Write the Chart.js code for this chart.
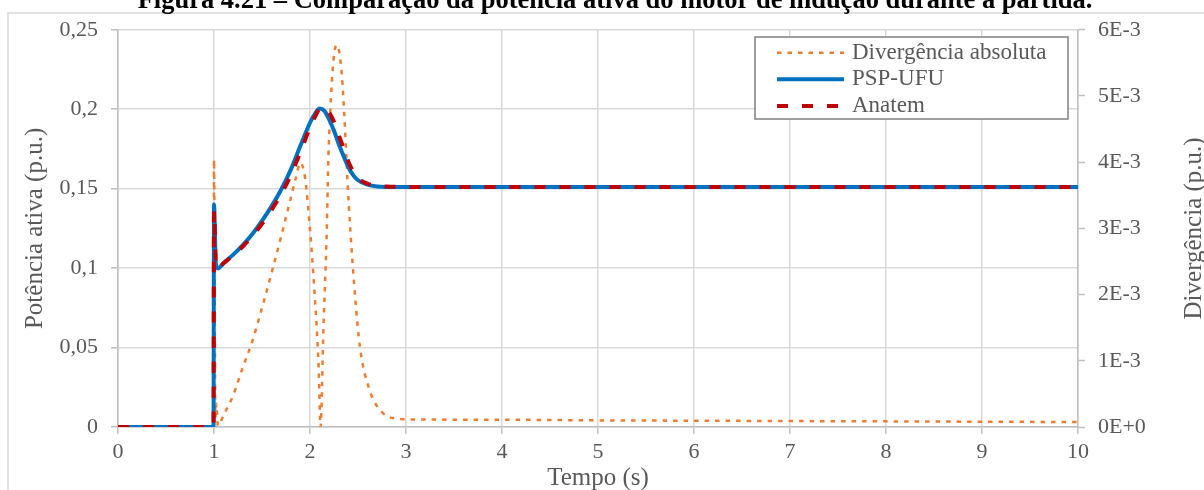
<!DOCTYPE html>
<html>
<head>
<meta charset="utf-8">
<script src="https://cdn.jsdelivr.net/npm/chart.js@4/dist/chart.umd.min.js"></script>
<style>
  html, body { margin: 0; padding: 0; background: #fff; overflow: hidden; width: 1204px; height: 490px; }
  #wrap { position: relative; width: 1204px; height: 490px; overflow: hidden; }
  #c { position: absolute; left: 0; top: -20px; }
</style>
</head>
<body>
<div id="wrap"><canvas id="c" width="1230" height="520"></canvas></div>
<script>
// Active power of the induction motor during start-up (p.u.)
const powerTime = [0, 0.995, 1.0, 1.02, 1.04, 1.1, 1.2, 1.3, 1.4, 1.5, 1.6, 1.7, 1.8, 1.9,
  2.0, 2.05, 2.1, 2.15, 2.2, 2.25, 2.3, 2.35, 2.4, 2.45, 2.5, 2.6, 2.7, 2.8,
  3, 4, 5, 6, 7, 8, 9, 10];
const pspUfu = [0, 0, 0.140, 0.102, 0.0998, 0.1032, 0.1085, 0.1145, 0.1215, 0.1297, 0.139, 0.1495, 0.162, 0.177,
  0.1915, 0.197, 0.2005, 0.199, 0.1935, 0.1865, 0.178, 0.1705, 0.1635, 0.1585, 0.1553, 0.1525, 0.1514, 0.1511,
  0.151, 0.151, 0.151, 0.151, 0.151, 0.151, 0.151, 0.151];
const anatem = [0, 0, 0.136, 0.1017, 0.0997, 0.103, 0.108, 0.1136, 0.1202, 0.1279, 0.1367, 0.1466, 0.1585, 0.173,
  0.1885, 0.195, 0.2003, 0.2011, 0.1978, 0.1921, 0.1836, 0.1754, 0.1669, 0.1608, 0.1567, 0.1531, 0.1517, 0.1513,
  0.1511, 0.1511, 0.1511, 0.1511, 0.151, 0.151, 0.151, 0.151];

// Absolute divergence between both simulators (p.u.)
const divTime = [0, 0.995, 1.0, 1.015, 1.025, 1.04, 1.1, 1.2, 1.3, 1.4, 1.5, 1.6, 1.7, 1.8,
  1.85, 1.9, 1.95, 2.0, 2.05, 2.09, 2.11, 2.14, 2.175, 2.19, 2.21, 2.245, 2.28,
  2.33, 2.365, 2.39, 2.42, 2.47, 2.52, 2.62, 2.76, 2.94,
  3, 4, 5, 6, 7, 8, 9, 10];
const divergence = [0, 0, 4.04e-3, 0.15e-3, 0.35e-3, 0.02e-3, 0.18e-3, 0.48e-3, 0.9e-3, 1.3e-3, 1.8e-3, 2.33e-3, 2.88e-3, 3.46e-3,
  3.75e-3, 3.99e-3, 3.75e-3, 2.98e-3, 1.97e-3, 0.9e-3, 0, 1.5e-3, 2.98e-3, 3.99e-3, 4.74e-3, 5.55e-3, 5.77e-3,
  5.35e-3, 4.49e-3, 3.73e-3, 2.98e-3, 1.97e-3, 1.21e-3, 0.56e-3, 0.21e-3, 0.12e-3,
  0.115e-3, 0.11e-3, 0.10e-3, 0.095e-3, 0.09e-3, 0.085e-3, 0.08e-3, 0.075e-3];

const seriesLabels = ['Divergência absoluta', 'PSP-UFU', 'Anatem'];
const chartTitle = 'Figura 4.21 – Comparação da potência ativa do motor de indução durante a partida.';
const xTitle = 'Tempo (s)';
const leftTitle = 'Potência ativa (p.u.)';
const rightTitle = 'Divergência (p.u.)';

const FONT = '"Liberation Serif", "Times New Roman", serif';
const GREY_TEXT = '#595959';

const toPoints = (xs, ys) => xs.map((x, i) => ({ x, y: ys[i] }));

const powerTick = v => String(Number(v.toFixed(2))).replace('.', ',');
const divTick = v => (Math.abs(v) < 1e-12 ? '0E+0' : Math.round(v * 1000) + 'E-3');

// Outer frame, boxed legend and the right-hand axis title
const decorations = {
  id: 'decorations',
  beforeDraw(chart) {
    const { ctx, width, height } = chart;
    ctx.save();
    ctx.fillStyle = '#ffffff';
    ctx.fillRect(0, 0, width, height);
    ctx.strokeStyle = '#d9d9d9';
    ctx.lineWidth = 1.5;
    ctx.strokeRect(8, 33, width - 16, height - 40);
    ctx.restore();
  },
  afterDraw(chart) {
    const { ctx, chartArea } = chart;
    ctx.save();
    const box = { x: 755, y: 57, w: 313, h: 82 };
    ctx.fillStyle = '#ffffff';
    ctx.fillRect(box.x, box.y, box.w, box.h);
    ctx.strokeStyle = '#808080';
    ctx.lineWidth = 1.5;
    ctx.strokeRect(box.x, box.y, box.w, box.h);
    chart.data.datasets.forEach((ds, i) => {
      const y = box.y + 15.7 + i * 26.65;
      ctx.strokeStyle = ds.borderColor;
      ctx.lineWidth = ds.borderWidth;
      ctx.setLineDash(ds.borderDash || []);
      ctx.beginPath();
      ctx.moveTo(777, y);
      ctx.lineTo(844, y);
      ctx.stroke();
      ctx.setLineDash([]);
      ctx.fillStyle = GREY_TEXT;
      ctx.font = '23px ' + FONT;
      ctx.textAlign = 'left';
      ctx.textBaseline = 'middle';
      ctx.fillText(ds.label, 852, y);
    });
    ctx.translate(1194.5, (chartArea.top + chartArea.bottom) / 2);
    ctx.rotate(-Math.PI / 2);
    ctx.fillStyle = GREY_TEXT;
    ctx.font = '25px ' + FONT;
    ctx.textAlign = 'center';
    ctx.textBaseline = 'middle';
    ctx.fillText(rightTitle, 0, 0);
    ctx.restore();
  }
};

const common = { pointRadius: 0, pointHoverRadius: 0, fill: false, cubicInterpolationMode: 'monotone', borderCapStyle: 'butt' };

new Chart(document.getElementById('c'), {
  type: 'line',
  data: {
    datasets: [
      Object.assign({}, common, {
        label: seriesLabels[0], data: toPoints(divTime, divergence), yAxisID: 'yDiv',
        borderColor: '#ED7D31', borderWidth: 2.5, borderDash: [4.5, 6], order: 3
      }),
      Object.assign({}, common, {
        label: seriesLabels[1], data: toPoints(powerTime, pspUfu), yAxisID: 'yPot',
        borderColor: '#0070C0', borderWidth: 4, order: 2
      }),
      Object.assign({}, common, {
        label: seriesLabels[2], data: toPoints(powerTime, anatem), yAxisID: 'yPot',
        borderColor: '#C00000', borderWidth: 4, borderDash: [11, 14], order: 1
      })
    ]
  },
  options: {
    responsive: false,
    animation: false,
    devicePixelRatio: 1,
    layout: { padding: 0 },
    plugins: {
      legend: { display: false },
      tooltip: { enabled: false },
      title: {
        display: true, text: chartTitle, color: '#000000',
        font: { family: FONT, size: 26.5, weight: 'bold' },
        padding: { top: 5, bottom: 13 }
      }
    },
    scales: {
      x: {
        type: 'linear', position: 'bottom', min: 0, max: 10,
        afterFit: s => { s.height = 73; },
        ticks: { stepSize: 1, color: GREY_TEXT, font: { family: FONT, size: 22 }, padding: 5, maxRotation: 0 },
        grid: { color: '#d9d9d9', lineWidth: 1.5, tickLength: 7, tickColor: '#bfbfbf', tickWidth: 1.5 },
        border: { color: '#bfbfbf', width: 1.5 },
        title: { display: true, text: xTitle, color: GREY_TEXT, font: { family: FONT, size: 25 }, padding: { top: 0, bottom: 7 } }
      },
      yPot: {
        type: 'linear', position: 'left', min: 0, max: 0.25,
        afterFit: s => { s.width = 118; },
        ticks: { stepSize: 0.05, callback: powerTick, color: GREY_TEXT, font: { family: FONT, size: 22 }, padding: 13 },
        grid: { color: '#d9d9d9', lineWidth: 1.5, tickLength: 7, tickColor: '#bfbfbf', tickWidth: 1.5 },
        border: { color: '#bfbfbf', width: 1.5 },
        title: { display: true, text: leftTitle, color: GREY_TEXT, font: { family: FONT, size: 25 }, padding: { top: 20, bottom: 0 } }
      },
      yDiv: {
        type: 'linear', position: 'right', min: 0, max: 0.006,
        afterFit: s => { s.width = 152; },
        ticks: { stepSize: 0.001, callback: divTick, color: GREY_TEXT, font: { family: FONT, size: 22 }, padding: 13 },
        grid: { drawOnChartArea: false, tickLength: 7, tickColor: '#bfbfbf', tickWidth: 1.5 },
        border: { color: '#bfbfbf', width: 1.5 }
      }
    }
  },
  plugins: [decorations]
});
</script>
</body>
</html>
